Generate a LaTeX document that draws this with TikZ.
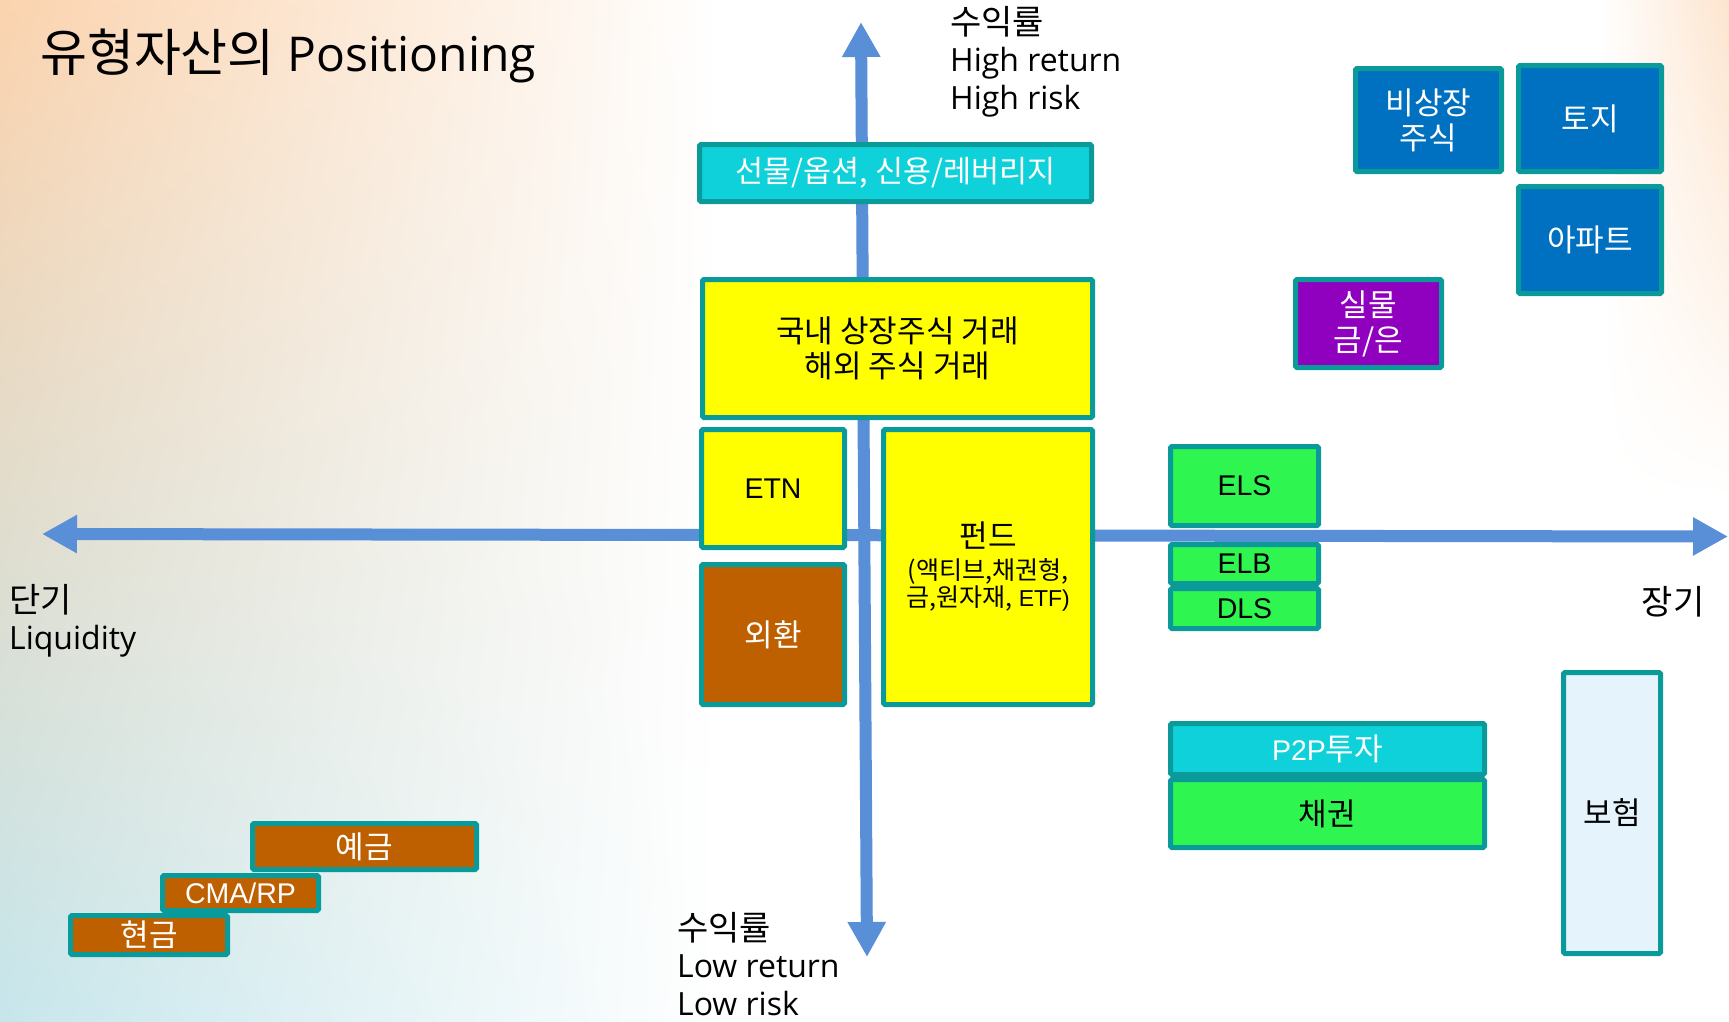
\documentclass[tikz,border=0pt]{standalone}
\usepackage{fontspec}
\setmainfont{Liberation Sans}
\newfontfamily\kr[Scale=1.09]{Noto Sans CJK KR}
\newfontfamily\ax[Scale=1.025]{Open Sans}
\usepackage{tikz}
\usetikzlibrary{arrows.meta,shadings}

\definecolor{edge}{RGB}{10,154,154}
\definecolor{axisblue}{RGB}{88,143,214}
\definecolor{lemon}{RGB}{255,255,0}
\definecolor{rust}{RGB}{190,96,0}
\definecolor{aqua}{RGB}{14,209,217}
\definecolor{cobalt}{RGB}{0,112,192}
\definecolor{grape}{RGB}{143,0,191}
\definecolor{leaf}{RGB}{46,245,80}
\definecolor{mist}{RGB}{229,243,253}
\definecolor{bgpeach}{RGB}{251,211,174}
\definecolor{bgcyan}{RGB}{198,230,236}

\begin{document}
\begin{tikzpicture}[x=1pt,y=-1pt,
    asset/.style={draw=edge,line width=5pt,rounded corners=1.5pt,inner sep=0pt,
      align=center,font=\fontsize{28.5}{35}\selectfont},
    dims/.style 2 args={minimum width=#1pt,minimum height=#2pt},
    yellowbox/.style={asset,fill=lemon},
    greenbox/.style={asset,fill=leaf},
    rustbox/.style={asset,fill=rust,text=white},
    aquabox/.style={asset,fill=aqua,text=white},
    bluebox/.style={asset,fill=cobalt,text=white},
    axis/.style={draw=axisblue,line width=12pt,
      {Triangle[length=35pt,width=36pt]}-{Triangle[length=35pt,width=36pt]}},
    axlabel/.style={inner sep=0pt,align=left,font=\fontsize{31.2}{37.5}\selectfont}]
        \useasboundingbox (0,0) rectangle (1729,1021);

        % Background
        \fill[white] (0,0) rectangle (1729,1021);
        \shade[upper left=bgpeach,lower left=bgcyan,upper right=white,lower right=white]
          (0,0) rectangle (720,1021);
        \shade[upper left=white,upper right=bgpeach!60,lower left=white,lower right=white]
          (1600,0) rectangle (1729,500);

        % Title
        \node[anchor=base west,inner sep=0pt,font=\fontsize{46.8}{56}\selectfont] (title) at (40,71)
          {{\kr 유형자산의} {\ax Positioning}};

        % Axes
        \coordinate (west) at (42,534);
        \coordinate (east) at (1728,536.5);
        \coordinate (north) at (861,22);
        \coordinate (south) at (867,957);
        \draw[axis] (west) -- (east);
        \draw[axis] (north) -- (south);

        % Axis labels
        \node[axlabel,anchor=north west] (high) at (950,6)
          {{\kr 수익률}\\{\ax High return}\\{\ax High risk}};
        \node[axlabel,anchor=north west] (low) at (677,912)
          {{\kr 수익률}\\{\ax Low return}\\{\ax Low risk}};
        \node[axlabel,anchor=north west] (short) at (9,584)
          {{\kr 단기}\\{\ax Liquidity}};
        \node[axlabel] (long) at (1673,602) {{\kr 장기}};

        % Around the origin
        \node[aquabox,dims={392}{57},font=\fontsize{28}{33}\selectfont] (futures) at (895.5,173)
          {{\kr 선물/옵션, 신용/레버리지}};
        \node[yellowbox,dims={390}{138}] (stocks) at (897.5,348.5)
          {{\kr 국내 상장주식 거래}\\{\kr 해외 주식 거래}};
        \node[yellowbox,dims={143}{118}] (etn) at (773,488.5) {ETN};
        \node[yellowbox,dims={209}{275}] (fund) at (988,567)
          {{\kr 펀드}\\[-3pt]
           {\fontsize{23}{27}\selectfont\kr (액티브,채권형,}\\[-8pt]
           {\fontsize{23}{27}\selectfont{\kr 금,원자재,} ETF)}};
        \node[rustbox,dims={143}{140}] (fx) at (773,634.5) {{\kr 외환}};

        % Long term, high return
        \node[bluebox,dims={146}{103}] (unlisted) at (1428.5,120) {{\kr 비상장}\\{\kr 주식}};
        \node[bluebox,dims={143}{106}] (land) at (1590,118.5) {{\kr 토지}};
        \node[bluebox,dims={143}{107}] (apt) at (1590,240) {{\kr 아파트}};
        \node[asset,fill=grape,text=white,dims={146}{88}] (gold) at (1368.5,323.5)
          {{\kr 실물}\\{\kr 금/은}};

        % Structured products
        \node[greenbox,dims={148}{79}] (els) at (1244.5,486) {ELS};
        \node[greenbox,dims={148}{39}] (elb) at (1244.5,564) {ELB};
        \node[greenbox,dims={148}{40}] (dls) at (1244.5,608.5) {DLS};

        % Long term, low return
        \node[aquabox,dims={314}{51}] (p2p) at (1327.5,749) {P2P{\kr 투자}};
        \node[greenbox,dims={314}{68}] (bond) at (1327.5,813.5) {{\kr 채권}};
        \node[asset,fill=mist,dims={97}{281}] (ins) at (1612,813) {{\kr 보험}};

        % Short term, low return
        \node[rustbox,dims={224}{46}] (deposit) at (364.5,846.5) {{\kr 예금}};
        \node[rustbox,dims={156}{35}] (cma) at (240.5,893) {CMA/RP};
        \node[rustbox,dims={157}{39}] (cash) at (149,935) {{\kr 현금}};
    \end{tikzpicture}
\end{document}
